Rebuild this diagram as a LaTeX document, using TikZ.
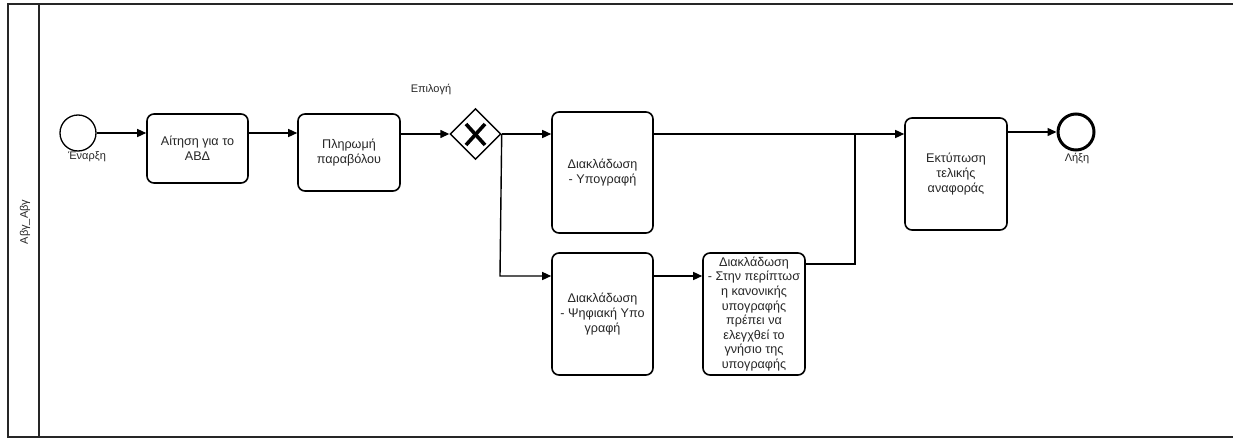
\documentclass[tikz,border=0pt]{standalone}
\usepackage{fontspec}
\setmainfont{Liberation Sans}
\usetikzlibrary{arrows.meta,shapes.geometric}
\begin{document}
\begin{tikzpicture}[x=1pt,y=-1pt,
  task/.style={draw=black,line width=1.6pt,rounded corners=7pt,fill=white,inner sep=0pt,align=center,font=\fontsize{12.6}{14.6}\selectfont,text=black!85},
  flow/.style={line width=1.4pt,-{Triangle[length=9pt,width=8pt]}},
  plain/.style={line width=1.4pt},
  lbl/.style={font=\fontsize{11}{13}\selectfont,text=black!85,inner sep=0pt}]
\useasboundingbox (0,0) rectangle (1233,439);
\fill[white] (0,0) rectangle (1233,439);
% pool
\draw[line width=1.6pt,black!85] (1240,4) -- (8,4) -- (8,437) -- (1240,437);
\draw[line width=1.6pt,black!85] (39,4) -- (39,437);
\node[lbl,rotate=90] (lane) at (25,222) {Αβγ\_Αβγ};
% events
\node[circle,draw,line width=1.3pt,minimum size=36pt,inner sep=0pt] (start) at (78,133) {};
\node[lbl] (startl) at (87,157) {Έναρξη};
\node[circle,draw,line width=3pt,minimum size=36pt,inner sep=0pt] (end) at (1076,132) {};
\node[lbl] (endl) at (1077,158) {Λήξη};
% tasks
\node[task,minimum width=101pt,minimum height=69pt] (t1) at (197.5,148.5) {Αίτηση για το\\ΑΒΔ};
\node[task,minimum width=102pt,minimum height=77pt] (t2) at (349,152.5) {Πληρωμή\\παραβόλου};
\node[task,minimum width=101pt,minimum height=121pt] (t3) at (602.5,172.5) {Διακλάδωση\\- Υπογραφή};
\node[task,minimum width=101pt,minimum height=122pt] (t4) at (602.5,314) {Διακλάδωση\\- Ψηφιακή Υπο\\γραφή};
\node[task,minimum width=102pt,minimum height=122pt] (t5) at (754,314) {Διακλάδωση\\- Στην περίπτωσ\\η κανονικής\\υπογραφής\\πρέπει να\\ελεγχθεί το\\γνήσιο της\\υπογραφής};
\node[task,minimum width=102pt,minimum height=112pt] (t6) at (956,174) {Εκτύπωση\\τελικής\\αναφοράς};
% gateway
\node[diamond,draw,line width=1.4pt,minimum width=51pt,minimum height=51pt,inner sep=0pt,fill=white] (gw) at (475.5,134) {};
\draw[line width=3.6pt] (466,124) -- (485,145) (485,124) -- (466,145);
\node[lbl] (gwl) at (431,89) {Επιλογή};
% flows
\coordinate (j1) at (855,134);
\coordinate (j2) at (855,264);
\coordinate (g2) at (500,276);
\draw[flow] (start.east) -- (t1.west |- start.east);
\draw[flow] (t1.east |- start.east) -- (t2.west |- start.east);
\draw[flow] (t2.east |- gw.west) -- (gw.west);
\draw[flow] (gw.east) -- (t3.west |- gw.east);
\draw[plain] (t3.east |- gw.east) -- (j1);
\draw[flow] (j1) -- (t6.west |- j1);
\draw[flow] (t6.east |- end.west) -- (end.west);
\draw[flow] (gw.east) -- (g2) -- (t4.west |- g2);
\draw[flow] (t4.east |- g2) -- (t5.west |- g2);
\draw[plain] (t5.east |- j2) -- (j2) -- (j1);
\end{tikzpicture}
\end{document}
